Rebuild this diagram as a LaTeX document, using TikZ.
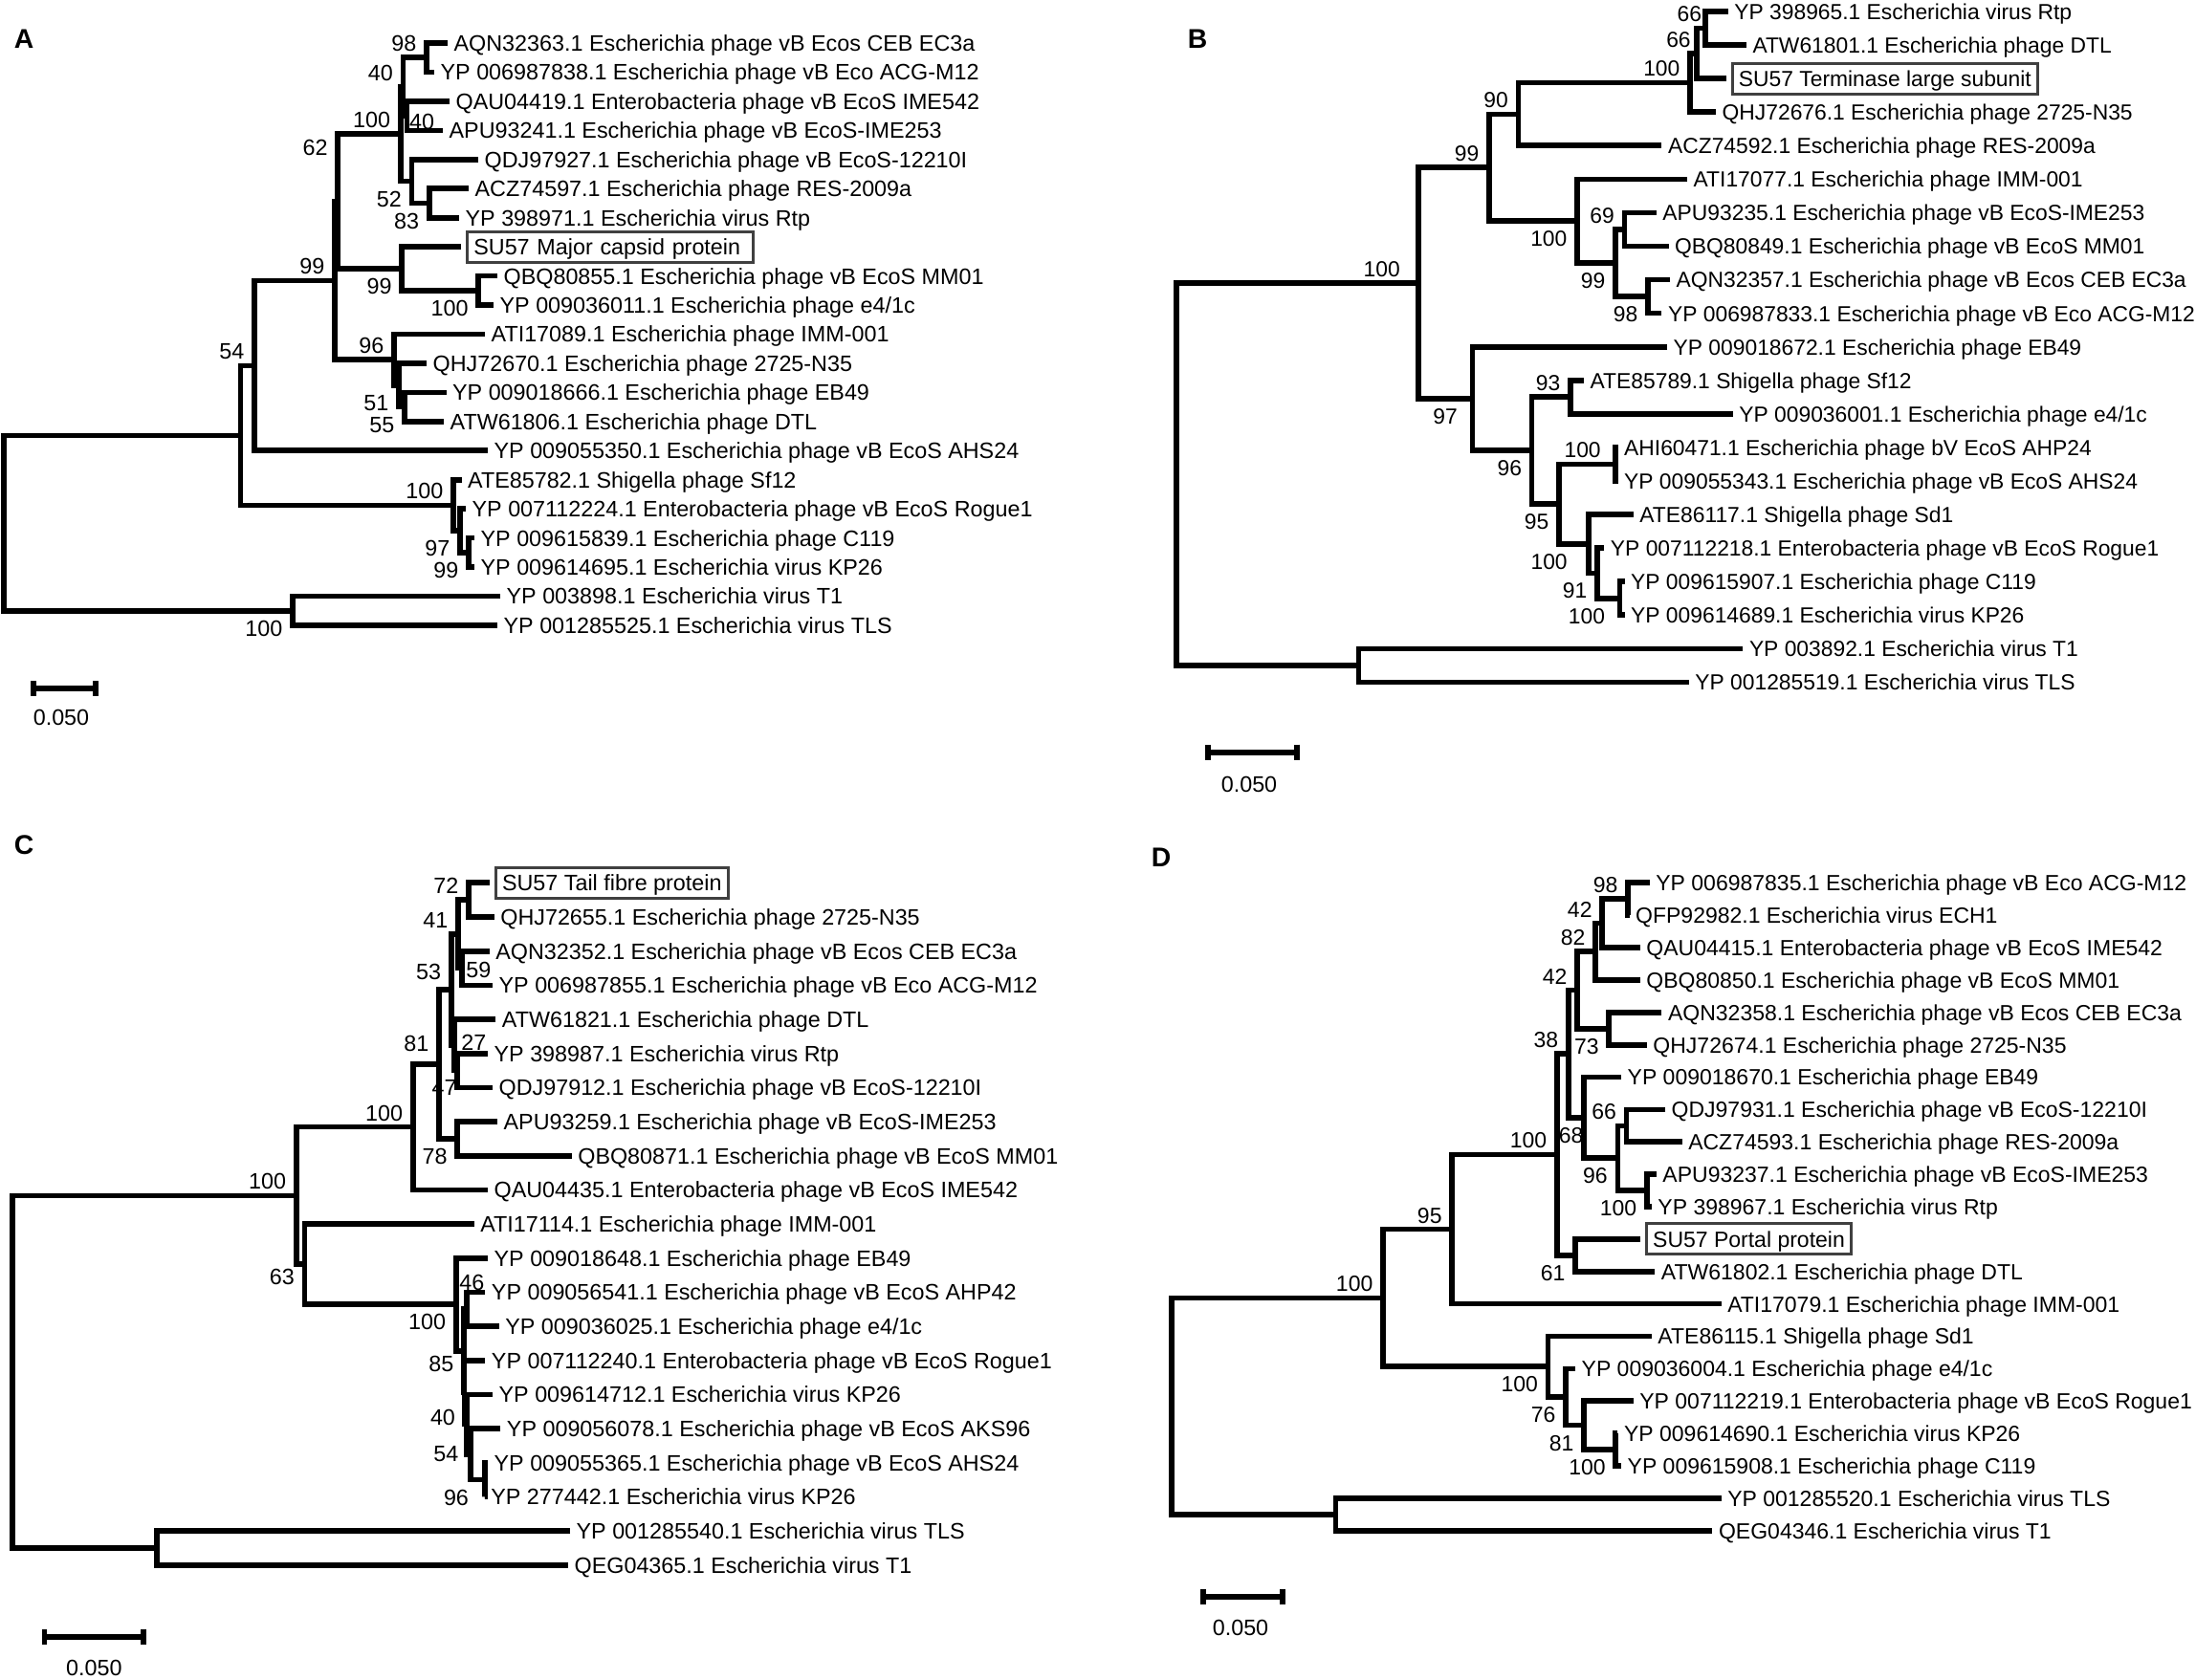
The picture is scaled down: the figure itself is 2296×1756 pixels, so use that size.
\documentclass[tikz,border=0pt]{standalone}
\usepackage{fontspec}
\setmainfont{Liberation Sans}
\usetikzlibrary{arrows.meta}

\definecolor{boxgray}{HTML}{404040}

\tikzset{
  br/.style={line width=1.7pt, line join=miter},
  leaf/.style={anchor=west, inner xsep=1.8pt, inner ysep=0pt, text height=5.05pt, text depth=0pt},
  su/.style={anchor=west, draw=boxgray, line width=0.9pt, outer sep=2pt, inner xsep=2pt, inner ysep=2.25pt, text height=5.05pt, text depth=0pt},
  bs/.style={inner sep=0pt},
  bsup/.style={bs, anchor=south east, xshift=-3pt, yshift=1.7pt},
  bsdn/.style={bs, anchor=north east, xshift=-3pt, yshift=-2.9pt},
  panel/.style={font=\fontsize{8.5pt}{10pt}\selectfont\bfseries},
  sbar/.style={line width=1.7pt, {Bar[width=4.8pt]}-{Bar[width=4.8pt]}},
}

\begin{document}
\begin{tikzpicture}[x=0.3pt, y=-0.3pt, font=\fontsize{7pt}{8.4pt}\selectfont]
\useasboundingbox (0,0) rectangle (2296,1756);

% ---------- A: major capsid protein
\begin{scope}[shift={(0,14.55)}, y=-9.135pt]
\node[leaf] (a1) at (468,1) {AQN32363.1 Escherichia phage vB Ecos CEB EC3a};
\node[leaf] (a2) at (454,2) {YP 006987838.1 Escherichia phage vB Eco ACG-M12};
\node[leaf] (a3) at (470,3) {QAU04419.1 Enterobacteria phage vB EcoS IME542};
\node[leaf] (a4) at (463,4) {APU93241.1 Escherichia phage vB EcoS-IME253};
\node[leaf] (a5) at (500,5) {QDJ97927.1 Escherichia phage vB EcoS-12210I};
\node[leaf] (a6) at (490,6) {ACZ74597.1 Escherichia phage RES-2009a};
\node[leaf] (a7) at (480,7) {YP 398971.1 Escherichia virus Rtp};
\node[su, text width=85.5pt] (a8) at (482,8) {SU57 Major capsid protein};
\node[leaf] (a9) at (520,9) {QBQ80855.1 Escherichia phage vB EcoS MM01};
\node[leaf] (a10) at (516,10) {YP 009036011.1 Escherichia phage e4/1c};
\node[leaf] (a11) at (507,11) {ATI17089.1 Escherichia phage IMM-001};
\node[leaf] (a12) at (446,12) {QHJ72670.1 Escherichia phage 2725-N35};
\node[leaf] (a13) at (466.5,13) {YP 009018666.1 Escherichia phage EB49};
\node[leaf] (a14) at (464,14) {ATW61806.1 Escherichia phage DTL};
\node[leaf] (a15) at (510,15) {YP 009055350.1 Escherichia phage vB EcoS AHS24};
\node[leaf] (a16) at (482.5,16) {ATE85782.1 Shigella phage Sf12};
\node[leaf] (a17) at (487,17) {YP 007112224.1 Enterobacteria phage vB EcoS Rogue1};
\node[leaf] (a18) at (496,18) {YP 009615839.1 Escherichia phage C119};
\node[leaf] (a19) at (496,19) {YP 009614695.1 Escherichia virus KP26};
\node[leaf] (a20) at (523,20) {YP 003898.1 Escherichia virus T1};
\node[leaf] (a21) at (520,21) {YP 001285525.1 Escherichia virus TLS};

\coordinate (n98) at (446,1.5);
\coordinate (n40b) at (425.5,3.5);
\coordinate (n40a) at (421.4,2.5);
\coordinate (n83) at (448.7,6.5);
\coordinate (n52) at (430.6,5.75);
\coordinate (n100a) at (418.8,4.125);
\coordinate (n100b) at (500.3,9.5);
\coordinate (n99a) at (420.3,8.75);
\coordinate (n62) at (353,6.4375);
\coordinate (n55) at (423,13.5);
\coordinate (n51) at (417,12.75);
\coordinate (n96) at (412,11.875);
\coordinate (n99b) at (350,9.156);
\coordinate (n54) at (266,12.078);
\coordinate (n99c) at (490,18.5);
\coordinate (n97) at (481,17.75);
\coordinate (n100c) at (474,16.875);
\coordinate (nx) at (251.5,14.477);
\coordinate (nT) at (306,20.5);
\coordinate (aroot) at (4,17.49);

\draw[br] (a1.west) -| (n98) |- (a2.west);
\draw[br] (a3.west) -| (n40b) |- (a4.west);
\draw[br] (n98) -| (n40a) |- (n40b);
\draw[br] (a6.west) -| (n83) |- (a7.west);
\draw[br] (a5.west) -| (n52) |- (n83);
\draw[br] (n40a) -| (n100a) |- (n52);
\draw[br] (a9.west) -| (n100b) |- (a10.west);
\draw[br] (a8.west) -| (n99a) |- (n100b);
\draw[br] (n100a) -| (n62) |- (n99a);
\draw[br] (a13.west) -| (n55) |- (a14.west);
\draw[br] (a12.west) -| (n51) |- (n55);
\draw[br] (a11.west) -| (n96) |- (n51);
\draw[br] (n62) -| (n99b) |- (n96);
\draw[br] (n99b) -| (n54) |- (a15.west);
\draw[br] (a18.west) -| (n99c) |- (a19.west);
\draw[br] (a17.west) -| (n97) |- (n99c);
\draw[br] (a16.west) -| (n100c) |- (n97);
\draw[br] (n54) -| (nx) |- (n100c);
\draw[br] (a20.west) -| (nT) |- (a21.west);
\draw[br] (nx) -| (aroot) |- (nT);

\node[bsup] at (n98) {98};
\node[bsup] at (n40a) {40};
\node[bs, anchor=west] at ([xshift=0.6pt,yshift=-1.8pt]n40b) {40};
\node[bsup] at (n100a) {100};
\node[bsdn] at (n52) {52};
\node[bsdn] at (n83) {83};
\node[bsdn] at (n99a) {99};
\node[bsdn] at (n100b) {100};
\node[bs] at (329.5,4.61) {62};
\node[bsup] at (n99b) {99};
\node[bsup] at (n96) {96};
\node[bsdn] at (n51) {51};
\node[bsdn] at (n55) {55};
\node[bsup] at (n54) {54};
\node[bsup] at (n100c) {100};
\node[bsdn] at (n97) {97};
\node[bsdn] at (n99c) {99};
\node[bsdn] at (nT) {100};
\end{scope}

% ---------- B: terminase large subunit
\begin{scope}[shift={(0,-23.07)}, y=-10.521pt, font=\fontsize{6.85pt}{8.2pt}\selectfont]
\node[leaf] (b1) at (1806.7,1) {YP 398965.1 Escherichia virus Rtp};
\node[leaf] (b2) at (1825.8,2) {ATW61801.1 Escherichia phage DTL};
\node[su] (b3) at (1804.6,3) {SU57 Terminase large subunit};
\node[leaf] (b4) at (1794,4) {QHJ72676.1 Escherichia phage 2725-N35};
\node[leaf] (b5) at (1737.4,5) {ACZ74592.1 Escherichia phage RES-2009a};
\node[leaf] (b6) at (1764,6) {ATI17077.1 Escherichia phage IMM-001};
\node[leaf] (b7) at (1731.8,7) {APU93235.1 Escherichia phage vB EcoS-IME253};
\node[leaf] (b8) at (1744.5,8) {QBQ80849.1 Escherichia phage vB EcoS MM01};
\node[leaf] (b9) at (1746,9) {AQN32357.1 Escherichia phage vB Ecos CEB EC3a};
\node[leaf] (b10) at (1737.4,10) {YP 006987833.1 Escherichia phage vB Eco ACG-M12};
\node[leaf] (b11) at (1743,11) {YP 009018672.1 Escherichia phage EB49};
\node[leaf] (b12) at (1656,12) {ATE85789.1 Shigella phage Sf12};
\node[leaf] (b13) at (1811.7,13) {YP 009036001.1 Escherichia phage e4/1c};
\node[leaf] (b14) at (1691.5,14) {AHI60471.1 Escherichia phage bV EcoS AHP24};
\node[leaf] (b15) at (1691.5,15) {YP 009055343.1 Escherichia phage vB EcoS AHS24};
\node[leaf] (b16) at (1707.7,16) {ATE86117.1 Shigella phage Sd1};
\node[leaf] (b17) at (1677.3,17) {YP 007112218.1 Enterobacteria phage vB EcoS Rogue1};
\node[leaf] (b18) at (1698.5,18) {YP 009615907.1 Escherichia phage C119};
\node[leaf] (b19) at (1698.5,19) {YP 009614689.1 Escherichia virus KP26};
\node[leaf] (b20) at (1822.3,20) {YP 003892.1 Escherichia virus T1};
\node[leaf] (b21) at (1765.7,21) {YP 001285519.1 Escherichia virus TLS};

\coordinate (b66b) at (1783,1.5);
\coordinate (b66a) at (1774,2.25);
\coordinate (b100a) at (1767,3.125);
\coordinate (b90) at (1587.5,4.0625);
\coordinate (b69) at (1698.5,7.5);
\coordinate (b98) at (1723,9.5);
\coordinate (b99b) at (1689,8.5);
\coordinate (b100b) at (1649,7.25);
\coordinate (b99) at (1557,5.656);
\coordinate (b93) at (1642,12.5);
\coordinate (b100c) at (1689.3,14.5);
\coordinate (b100e) at (1693.6,18.5);
\coordinate (b91) at (1670,17.75);
\coordinate (b100d) at (1661,16.875);
\coordinate (b95) at (1630,15.6875);
\coordinate (b96) at (1601.6,14.094);
\coordinate (b97) at (1539.4,12.547);
\coordinate (b100) at (1482.8,9.102);
\coordinate (bT) at (1420.6,20.5);
\coordinate (broot) at (1229.7,14.8);

\draw[br] (b1.west) -| (b66b) |- (b2.west);
\draw[br] (b66b) -| (b66a) |- (b3.west);
\draw[br] (b66a) -| (b100a) |- (b4.west);
\draw[br] (b100a) -| (b90) |- (b5.west);
\draw[br] (b7.west) -| (b69) |- (b8.west);
\draw[br] (b9.west) -| (b98) |- (b10.west);
\draw[br] (b69) -| (b99b) |- (b98);
\draw[br] (b6.west) -| (b100b) |- (b99b);
\draw[br] (b90) -| (b99) |- (b100b);
\draw[br] (b12.west) -| (b93) |- (b13.west);
\draw[br] (b14.west) -| (b100c) |- (b15.west);
\draw[br] (b18.west) -| (b100e) |- (b19.west);
\draw[br] (b17.west) -| (b91) |- (b100e);
\draw[br] (b16.west) -| (b100d) |- (b91);
\draw[br] (b100c) -| (b95) |- (b100d);
\draw[br] (b93) -| (b96) |- (b95);
\draw[br] (b11.west) -| (b97) |- (b96);
\draw[br] (b99) -| (b100) |- (b97);
\draw[br] (b20.west) -| (bT) |- (b21.west);
\draw[br] (b100) -| (broot) |- (bT);

\node[bsup, xshift=2pt] at (b66b) {66};
\node[bsup, xshift=1.3pt] at (b66a) {66};
\node[bsup] at (b100a) {100};
\node[bsup] at (b90) {90};
\node[bsup] at (b99) {99};
\node[bsup, xshift=-2.5pt] at (b100) {100};
\node[bsdn] at (b100b) {100};
\node[bsup] at (b69) {69};
\node[bsdn] at (b99b) {99};
\node[bsdn] at (b98) {98};
\node[bsdn, xshift=-1.5pt] at (b97) {97};
\node[bsup] at (b93) {93};
\node[bsdn] at (b96) {96};
\node[bsup, xshift=-1.5pt] at (b100c) {100};
\node[bsdn] at (b95) {95};
\node[bsdn, xshift=-3.5pt] at (b100d) {100};
\node[bsdn] at (b91) {91};
\node[bsdn, xshift=-1.5pt] at (b100e) {100};
\end{scope}

% ---------- C: tail fibre protein
\begin{scope}[shift={(0,887.63)}, y=-10.701pt]
\node[su] (c1) at (511.7,1) {SU57 Tail fibre protein};
\node[leaf] (c2) at (516.7,2) {QHJ72655.1 Escherichia phage 2725-N35};
\node[leaf] (c3) at (511.7,3) {AQN32352.1 Escherichia phage vB Ecos CEB EC3a};
\node[leaf] (c4) at (515,4) {YP 006987855.1 Escherichia phage vB Eco ACG-M12};
\node[leaf] (c5) at (518.3,5) {ATW61821.1 Escherichia phage DTL};
\node[leaf] (c6) at (510,6) {YP 398987.1 Escherichia virus Rtp};
\node[leaf] (c7) at (515,7) {QDJ97912.1 Escherichia phage vB EcoS-12210I};
\node[leaf] (c8) at (520,8) {APU93259.1 Escherichia phage vB EcoS-IME253};
\node[leaf] (c9) at (597.7,9) {QBQ80871.1 Escherichia phage vB EcoS MM01};
\node[leaf] (c10) at (510,10) {QAU04435.1 Enterobacteria phage vB EcoS IME542};
\node[leaf] (c11) at (495.6,11) {ATI17114.1 Escherichia phage IMM-001};
\node[leaf] (c12) at (510,12) {YP 009018648.1 Escherichia phage EB49};
\node[leaf] (c13) at (507.3,13) {YP 009056541.1 Escherichia phage vB EcoS AHP42};
\node[leaf] (c14) at (521.7,14) {YP 009036025.1 Escherichia phage e4/1c};
\node[leaf] (c15) at (507.3,15) {YP 007112240.1 Enterobacteria phage vB EcoS Rogue1};
\node[leaf] (c16) at (515,16) {YP 009614712.1 Escherichia virus KP26};
\node[leaf] (c17) at (523.3,17) {YP 009056078.1 Escherichia phage vB EcoS AKS96};
\node[leaf] (c18) at (510,18) {YP 009055365.1 Escherichia phage vB EcoS AHS24};
\node[leaf] (c19) at (506.7,19) {YP 277442.1 Escherichia virus KP26};
\node[leaf] (c20) at (596,20) {YP 001285540.1 Escherichia virus TLS};
\node[leaf] (c21) at (594,21) {QEG04365.1 Escherichia virus T1};

\coordinate (c72) at (490,1.5);
\coordinate (c59) at (483,3.5);
\coordinate (c41) at (479,2.5);
\coordinate (c47) at (478.3,6.5);
\coordinate (c27) at (475,5.75);
\coordinate (c53) at (471.7,4.125);
\coordinate (c78) at (478.3,8.5);
\coordinate (c81) at (459,6.3125);
\coordinate (c100b) at (431.7,8.156);
\coordinate (c96) at (507.3,18.5);
\coordinate (c54) at (491.7,17.75);
\coordinate (c40) at (488.3,16.875);
\coordinate (cR) at (485.5,15.9375);
\coordinate (c46) at (488.3,13.5);
\coordinate (c85) at (485,14.719);
\coordinate (c100c) at (476.7,13.359);
\coordinate (c63) at (318.5,12.18);
\coordinate (c100) at (309.8,10.168);
\coordinate (cT) at (164,20.5);
\coordinate (croot) at (13,15.334);

\draw[br] (c1.west) -| (c72) |- (c2.west);
\draw[br] (c3.west) -| (c59) |- (c4.west);
\draw[br] (c72) -| (c41) |- (c59);
\draw[br] (c6.west) -| (c47) |- (c7.west);
\draw[br] (c5.west) -| (c27) |- (c47);
\draw[br] (c41) -| (c53) |- (c27);
\draw[br] (c8.west) -| (c78) |- (c9.west);
\draw[br] (c53) -| (c81) |- (c78);
\draw[br] (c81) -| (c100b) |- (c10.west);
\draw[br] (c18.west) -| (c96) |- (c19.west);
\draw[br] (c17.west) -| (c54) |- (c96);
\draw[br] (c16.west) -| (c40) |- (c54);
\draw[br] (c15.west) -| (cR) |- (c40);
\draw[br] (c13.west) -| (c46) |- (c14.west);
\draw[br] (c46) -| (c85) |- (cR);
\draw[br] (c12.west) -| (c100c) |- (c85);
\draw[br] (c11.west) -| (c63) |- (c100c);
\draw[br] (c100b) -| (c100) |- (c63);
\draw[br] (c20.west) -| (cT) |- (c21.west);
\draw[br] (c100) -| (croot) |- (cT);

\node[bsup] at (c72) {72};
\node[bsup] at (c41) {41};
\node[bs, anchor=west] at ([xshift=1.1pt,yshift=-0.7pt]c59) {59};
\node[bsup, yshift=1pt] at (c53) {53};
\node[bs, anchor=west] at ([xshift=2pt,yshift=0.6pt]c27) {27};
\node[bsdn, xshift=3pt] at (c47) {47};
\node[bsup, yshift=2pt] at (c81) {81};
\node[bsdn] at (c78) {78};
\node[bsup] at (c100b) {100};
\node[bsup] at (c100) {100};
\node[bsdn, yshift=1.5pt] at (c63) {63};
\node[bsdn] at (c100c) {100};
\node[bs] at ([xshift=1.5pt,yshift=8.3pt]c46) {46};
\node[bsdn, yshift=1.5pt] at (c85) {85};
\node[bs, anchor=east] at ([xshift=-3.5pt,yshift=2pt]c40) {40};
\node[bs, anchor=east] at ([xshift=-3.5pt]c54) {54};
\node[bsdn, xshift=-2pt] at (c96) {96};
\end{scope}

% ---------- D: portal protein
\begin{scope}[shift={(0,889.43)}, y=-10.161pt, font=\fontsize{6.9pt}{8.3pt}\selectfont]
\node[leaf] (d1) at (1724.7,1) {YP 006987835.1 Escherichia phage vB Eco ACG-M12};
\node[leaf] (d2) at (1703.5,2) {QFP92982.1 Escherichia virus ECH1};
\node[leaf] (d3) at (1714.8,3) {QAU04415.1 Enterobacteria phage vB EcoS IME542};
\node[leaf] (d4) at (1714.8,4) {QBQ80850.1 Escherichia phage vB EcoS MM01};
\node[leaf] (d5) at (1737.4,5) {AQN32358.1 Escherichia phage vB Ecos CEB EC3a};
\node[leaf] (d6) at (1721.8,6) {QHJ72674.1 Escherichia phage 2725-N35};
\node[leaf] (d7) at (1695,7) {YP 009018670.1 Escherichia phage EB49};
\node[leaf] (d8) at (1741,8) {QDJ97931.1 Escherichia phage vB EcoS-12210I};
\node[leaf] (d9) at (1758.6,9) {ACZ74593.1 Escherichia phage RES-2009a};
\node[leaf] (d10) at (1731.8,10) {APU93237.1 Escherichia phage vB EcoS-IME253};
\node[leaf] (d11) at (1726.8,11) {YP 398967.1 Escherichia virus Rtp};
\node[su] (d12) at (1714.8,12) {SU57 Portal protein};
\node[leaf] (d13) at (1730.3,13) {ATW61802.1 Escherichia phage DTL};
\node[leaf] (d14) at (1799.6,14) {ATI17079.1 Escherichia phage IMM-001};
\node[leaf] (d15) at (1726.8,15) {ATE86115.1 Shigella phage Sd1};
\node[leaf] (d16) at (1647,16) {YP 009036004.1 Escherichia phage e4/1c};
\node[leaf] (d17) at (1707.7,17) {YP 007112219.1 Enterobacteria phage vB EcoS Rogue1};
\node[leaf] (d18) at (1691.4,18) {YP 009614690.1 Escherichia virus KP26};
\node[leaf] (d19) at (1695,19) {YP 009615908.1 Escherichia phage C119};
\node[leaf] (d20) at (1799.6,20) {YP 001285520.1 Escherichia virus TLS};
\node[leaf] (d21) at (1790.4,21) {QEG04346.1 Escherichia virus T1};

\coordinate (d98) at (1702,1.5);
\coordinate (d42b) at (1675.2,2.25);
\coordinate (d82) at (1668,3.125);
\coordinate (d73) at (1682.3,5.5);
\coordinate (d42a) at (1649,4.3125);
\coordinate (d66) at (1700.6,8.5);
\coordinate (d100a) at (1721.8,10.5);
\coordinate (d96) at (1691.4,9.5);
\coordinate (d68) at (1656,8.25);
\coordinate (d38) at (1639.8,6.281);
\coordinate (d61) at (1647,12.5);
\coordinate (d100b) at (1627.8,9.391);
\coordinate (d95) at (1518.2,11.695);
\coordinate (d100d) at (1689.3,18.5);
\coordinate (d81) at (1656,17.75);
\coordinate (d76) at (1637,16.875);
\coordinate (d100c) at (1618.6,15.9375);
\coordinate (d100) at (1446,13.816);
\coordinate (dT) at (1396.6,20.5);
\coordinate (droot) at (1224.7,17.158);

\draw[br] (d1.west) -| (d98) |- (d2.west);
\draw[br] (d98) -| (d42b) |- (d3.west);
\draw[br] (d42b) -| (d82) |- (d4.west);
\draw[br] (d5.west) -| (d73) |- (d6.west);
\draw[br] (d82) -| (d42a) |- (d73);
\draw[br] (d8.west) -| (d66) |- (d9.west);
\draw[br] (d10.west) -| (d100a) |- (d11.west);
\draw[br] (d66) -| (d96) |- (d100a);
\draw[br] (d7.west) -| (d68) |- (d96);
\draw[br] (d42a) -| (d38) |- (d68);
\draw[br] (d12.west) -| (d61) |- (d13.west);
\draw[br] (d38) -| (d100b) |- (d61);
\draw[br] (d100b) -| (d95) |- (d14.west);
\draw[br] (d18.west) -| (d100d) |- (d19.west);
\draw[br] (d17.west) -| (d81) |- (d100d);
\draw[br] (d16.west) -| (d76) |- (d81);
\draw[br] (d15.west) -| (d100c) |- (d76);
\draw[br] (d95) -| (d100) |- (d100c);
\draw[br] (d20.west) -| (dT) |- (d21.west);
\draw[br] (d100) -| (droot) |- (dT);

\node[bsup] at (d98) {98};
\node[bsup] at (d42b) {42};
\node[bsup] at (d82) {82};
\node[bsup] at (d42a) {42};
\node[bsdn] at (d73) {73};
\node[bsup] at (d38) {38};
\node[bs, anchor=north east, yshift=-2.9pt] at (d68) {68};
\node[bsup] at (d66) {66};
\node[bsdn] at (d96) {96};
\node[bsdn] at (d100a) {100};
\node[bsup] at (d100b) {100};
\node[bsdn] at (d61) {61};
\node[bsup] at (d95) {95};
\node[bsup] at (d100) {100};
\node[bsdn] at (d100c) {100};
\node[bsdn] at (d76) {76};
\node[bsdn] at (d81) {81};
\node[bsdn] at (d100d) {100};
\end{scope}

% ---------- scale bars and panel letters
\coordinate (sa1) at (32,720);     \coordinate (sa2) at (102.5,720);
\coordinate (sb1) at (1260,786.7); \coordinate (sb2) at (1359,786.7);
\coordinate (sc1) at (43.7,1711.7); \coordinate (sc2) at (153,1711.7);
\coordinate (sd1) at (1255,1670);  \coordinate (sd2) at (1343.5,1670);
\draw[sbar] (sa1) -- (sa2);
\draw[sbar] (sb1) -- (sb2);
\draw[sbar] (sc1) -- (sc2);
\draw[sbar] (sd1) -- (sd2);
\node (la) at (64,750) {0.050};
\node (lb) at (1306,820) {0.050};
\node (lc) at (98.4,1744) {0.050};
\node (ld) at (1297,1702.7) {0.050};

\node[panel] (pA) at (25,41) {A};
\node[panel] (pB) at (1252,41) {B};
\node[panel] (pC) at (25,884) {C};
\node[panel] (pD) at (1214,897) {D};
\end{tikzpicture}
\end{document}
